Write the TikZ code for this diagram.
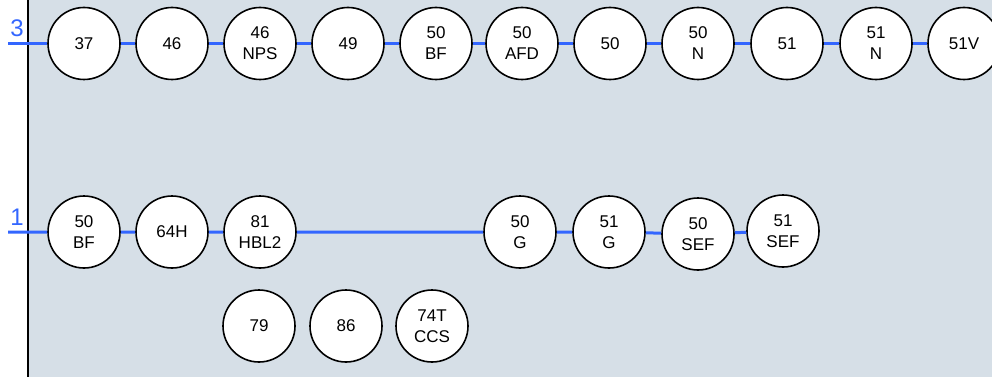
\documentclass[tikz,border=0pt]{standalone}
\usepackage{fontspec}
\setmainfont{Liberation Sans}
\begin{document}
\begin{tikzpicture}[x=1pt,y=-1pt,
  relay/.style={circle,draw=black,line width=1.6pt,fill=white,minimum size=72pt,inner sep=0pt,align=center,font=\fontsize{17}{21}\selectfont},
  bus/.style={draw=busblue,line width=3pt},
  buslabel/.style={text=busblue,font=\fontsize{24}{24}\selectfont,inner sep=0pt}]
\definecolor{busblue}{RGB}{51,102,255}
\definecolor{bg}{RGB}{214,223,231}
\useasboundingbox (0,0) rectangle (992,377);
\fill[bg] (28,0) rectangle (992,377);
\draw[line width=1.5pt] (28,0) -- (28,377);
% row 3
\coordinate (s3) at (8,43.5);
\node[buslabel] (l3) at (17,28) {3};
\node[relay] (a1) at (84,43.5) {37};
\node[relay] (a2) at (172,43.5) {46};
\node[relay] (a3) at (260,43.5) {46\\NPS};
\node[relay] (a4) at (348,43.5) {49};
\node[relay] (a5) at (436,43.5) {50\\BF};
\node[relay] (a6) at (522,43.5) {50\\AFD};
\node[relay] (a7) at (610,43.5) {50};
\node[relay] (a8) at (698,43.5) {50\\N};
\node[relay] (a9) at (787,43.5) {51};
\node[relay] (a10) at (876,43.5) {51\\N};
\node[relay] (a11) at (964,43.5) {51V};
\draw[bus] (s3) -- (a1) -- (a2) -- (a3) -- (a4) -- (a5) -- (a6) -- (a7) -- (a8) -- (a9) -- (a10) -- (a11);
% row 1
\coordinate (s1) at (8,232);
\node[buslabel] (l1) at (17,217) {1};
\node[relay] (b1) at (84,232) {50\\BF};
\node[relay] (b2) at (172,232) {64H};
\node[relay] (b3) at (260,232) {81\\HBL2};
\node[relay] (b4) at (520,232) {50\\G};
\node[relay] (b5) at (609,232) {51\\G};
\node[relay] (b6) at (698,234) {50\\SEF};
\node[relay] (b7) at (783,231) {51\\SEF};
\draw[bus] (s1) -- (b1) -- (b2) -- (b3) -- (b4) -- (b5) -- (b6) -- (b7);
% bottom row
\node[relay] (c1) at (259,326) {79};
\node[relay] (c2) at (346,326) {86};
\node[relay] (c3) at (432,326) {74T\\CCS};
\end{tikzpicture}
\end{document}
